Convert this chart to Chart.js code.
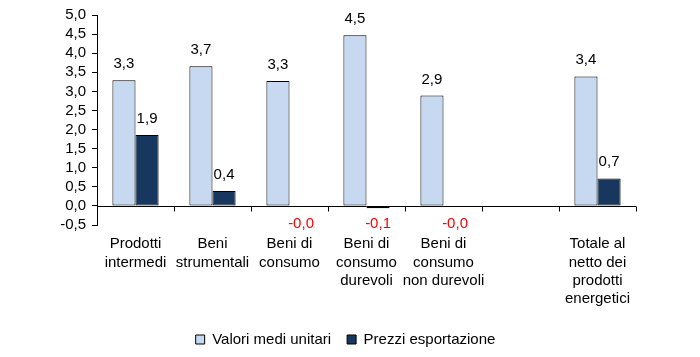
<!DOCTYPE html>
<html><head><meta charset="utf-8">
<script src="https://cdn.jsdelivr.net/npm/chart.js@4/dist/chart.umd.min.js"></script>
<style>html,body{margin:0;padding:0;background:#fff}#w{width:700px;height:357px}</style>
</head><body><div id="w"><canvas id="c"></canvas></div>
<script>
const categories = [
  ["Prodotti","intermedi"],
  ["Beni","strumentali"],
  ["Beni di","consumo"],
  ["Beni di","consumo","durevoli"],
  ["Beni di","consumo","non durevoli"],
  "",
  ["Totale al","netto dei","prodotti","energetici"]
];
const valoriMediUnitari = [3.29, 3.66, 3.27, 4.47, 2.89, null, 3.39];
const prezziEsportazione = [1.86, 0.39, -0.03, -0.06, -0.02, null, 0.72];
const yTicks = { min: -0.5, max: 5.0, step: 0.5 };

const FONT = "'Liberation Sans',Arial,sans-serif";
const FS = 15;
const fmt = v => v.toFixed(1).replace('.', ',');

const decor = {
  id: 'decor',
  afterDatasetsDraw(chart) {
    const ctx = chart.ctx, x = chart.scales.x, y = chart.scales.y, a = chart.chartArea;
    const y0 = Math.round(y.getPixelForValue(0)) + 0.5;
    ctx.save();
    ctx.strokeStyle = '#000'; ctx.lineWidth = 1;
    ctx.beginPath(); ctx.moveTo(a.left, y0); ctx.lineTo(a.right, y0); ctx.stroke();
    const n = categories.length;
    for (let i = 1; i <= n; i++) {
      const px = Math.round(x.getPixelForValue(i - 0.5)) + 0.5;
      ctx.beginPath(); ctx.moveTo(px, y0); ctx.lineTo(px, y0 + 5); ctx.stroke();
    }
    ctx.font = FS + 'px ' + FONT; ctx.textAlign = 'center'; ctx.textBaseline = 'alphabetic';
    chart.data.datasets.forEach((ds, di) => {
      const meta = chart.getDatasetMeta(di);
      meta.data.forEach((el, i) => {
        const v = ds.data[i];
        if (v === null || v === undefined) return;
        if (v >= 0) { ctx.fillStyle = '#000'; ctx.fillText(fmt(v), el.x, el.y - 12); }
        else { ctx.fillStyle = '#FF0000'; ctx.fillText(fmt(v), el.x, y.getPixelForValue(0) + 22); }
      });
    });
    ctx.restore();
  }
};

new Chart(document.getElementById('c'), {
  type: 'bar',
  data: {
    labels: categories,
    datasets: [
      { label: 'Valori medi unitari', data: valoriMediUnitari, backgroundColor: '#C6D9F1', borderColor: '#000', borderWidth: 1, borderSkipped: false },
      { label: 'Prezzi esportazione', data: prezziEsportazione, backgroundColor: '#17375E', borderColor: '#000', borderWidth: 1, borderSkipped: false }
    ]
  },
  options: {
    responsive: true, maintainAspectRatio: false, animation: false,
    layout: { padding: { left: 55, right: 64, top: 8, bottom: 0 } },
    datasets: { bar: { categoryPercentage: 0.6, barPercentage: 1.0 } },
    scales: {
      x: {
        grid: { display: false }, border: { display: false },
        ticks: { color: '#000', font: { family: FONT, size: FS, lineHeight: 1.22 }, maxRotation: 0, autoSkip: false, padding: 2 },
        afterFit(s) { s.height = 91; }
      },
      y: {
        min: yTicks.min, max: yTicks.max,
        grid: { drawOnChartArea: false, tickLength: 5, color: '#000' },
        border: { display: true, color: '#000' },
        ticks: { stepSize: yTicks.step, autoSkip: false, color: '#000', font: { family: FONT, size: FS }, padding: 6, callback: v => fmt(v) },
        afterFit(s) { s.width = 42; }
      }
    },
    plugins: {
      legend: { position: 'bottom', labels: { color: '#000', font: { family: FONT, size: FS }, boxWidth: 9, boxHeight: 9, padding: 16 } },
      tooltip: { enabled: false }
    }
  },
  plugins: [decor]
});
</script></body></html>
